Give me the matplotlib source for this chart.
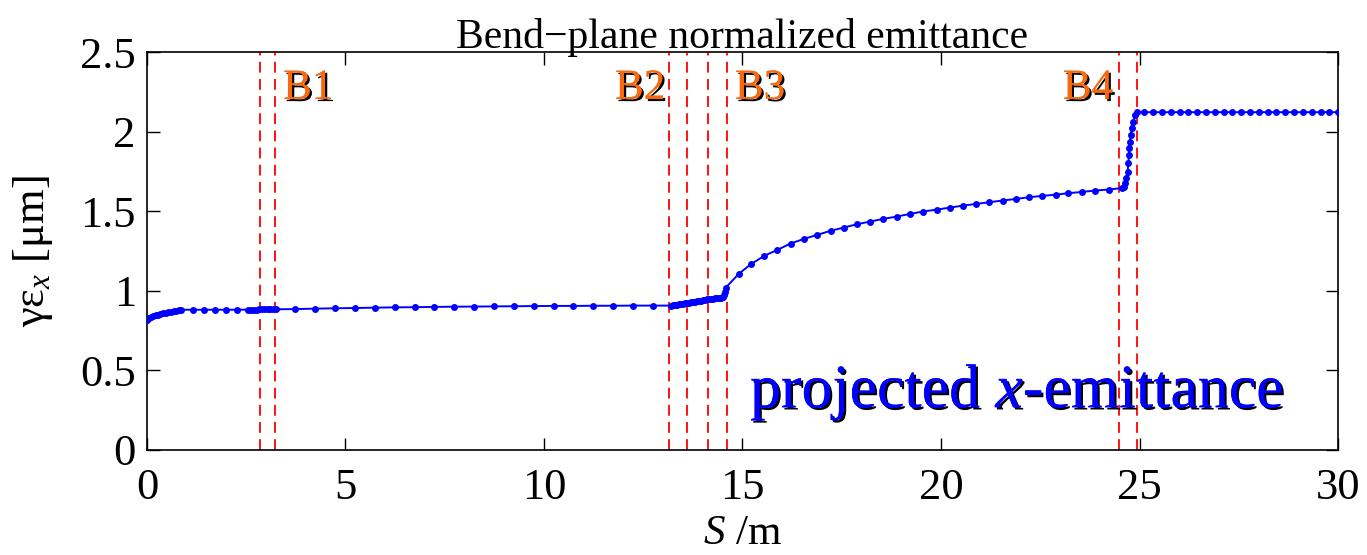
"""Bend-plane normalized emittance along the beamline."""

import matplotlib

matplotlib.use("Agg")

import matplotlib.pyplot as plt
import matplotlib.patheffects as pe

plt.rcParams["font.family"] = ["Liberation Serif", "DejaVu Serif"]
plt.rcParams["mathtext.fontset"] = "custom"
plt.rcParams["mathtext.rm"] = "Liberation Serif"
plt.rcParams["mathtext.it"] = "Liberation Serif:italic"

# emittance samples (S in m, gamma*eps_x in um)
s_pos = [
    0.00, 0.05, 0.10, 0.16, 0.22, 0.28, 0.33, 0.40, 0.47, 0.54, 0.61, 0.68, 0.74, 0.80, 0.87,
    1.17, 1.44, 1.72, 1.99, 2.27,
    2.55, 2.62, 2.69, 2.76, 2.83, 2.90, 2.97, 3.04, 3.11, 3.18, 3.25,
    3.74, 4.24, 4.74, 5.24, 5.74, 6.24, 6.74, 7.24, 7.74, 8.24, 8.74, 9.24, 9.74,
    10.24, 10.74, 11.24, 11.74, 12.24, 12.74,
    13.20, 13.25, 13.30, 13.35, 13.40, 13.45, 13.50, 13.55, 13.60, 13.65, 13.70, 13.75,
    13.80, 13.85, 13.90, 13.95, 14.00, 14.05, 14.10, 14.15, 14.20, 14.25, 14.30, 14.35,
    14.40, 14.45, 14.50, 14.53, 14.56, 14.58,
    14.90, 15.21, 15.55, 15.88, 16.21, 16.55, 16.88, 17.22, 17.55, 17.88, 18.22, 18.55,
    18.88, 19.22, 19.55, 19.89, 20.23, 20.55, 20.89, 21.22, 21.55, 21.89, 22.22, 22.55,
    22.89, 23.21, 23.55, 23.89, 24.22, 24.55,
    24.60, 24.63, 24.67, 24.70, 24.72, 24.73, 24.74, 24.76, 24.78, 24.80, 24.84, 24.89, 24.93,
    25.12, 25.34, 25.56, 25.79, 26.01, 26.23, 26.45, 26.67, 26.90, 27.12, 27.34, 27.56,
    27.78, 28.01, 28.23, 28.45, 28.67, 28.89, 29.12, 29.34, 29.56, 29.78, 30.00,
]
emit_x = [
    0.818, 0.826, 0.833, 0.839, 0.845, 0.850, 0.853, 0.858, 0.862, 0.865, 0.868, 0.871, 0.875, 0.878, 0.881,
    0.881, 0.881, 0.881, 0.881, 0.881,
    0.882, 0.882, 0.882, 0.882, 0.883, 0.883, 0.883, 0.883, 0.884, 0.884, 0.884,
    0.885, 0.888, 0.890, 0.892, 0.894, 0.896, 0.897, 0.899, 0.900, 0.901, 0.902, 0.903, 0.904,
    0.905, 0.905, 0.906, 0.906, 0.907, 0.907,
    0.907, 0.909, 0.911, 0.913, 0.915, 0.917, 0.919, 0.921, 0.923, 0.926, 0.928, 0.930,
    0.932, 0.934, 0.937, 0.939, 0.941, 0.943, 0.946, 0.948, 0.950, 0.951, 0.953, 0.954,
    0.956, 0.957, 0.960, 0.975, 0.995, 1.020,
    1.105, 1.167, 1.220, 1.257, 1.297, 1.326, 1.351, 1.377, 1.397, 1.418, 1.435, 1.452,
    1.466, 1.483, 1.498, 1.510, 1.523, 1.535, 1.546, 1.557, 1.567, 1.577, 1.588, 1.596,
    1.604, 1.613, 1.621, 1.630, 1.636, 1.645,
    1.650, 1.676, 1.707, 1.749, 1.801, 1.853, 1.895, 1.937, 1.979, 2.021, 2.062, 2.104, 2.121,
    2.122, 2.122, 2.122, 2.122, 2.122, 2.122, 2.122, 2.122, 2.122, 2.122, 2.122, 2.122,
    2.122, 2.122, 2.122, 2.122, 2.122, 2.122, 2.122, 2.122, 2.122, 2.122, 2.122,
]

# dipole edges and labels
bend_edges = [2.85, 3.22, 13.16, 13.59, 14.13, 14.60, 24.48, 24.93]
bend_names = ["B1", "B2", "B3", "B4"]
bend_label_s = [3.43, 11.79, 14.81, 23.07]
bend_label_y = 2.27

x_ticks = [0, 5, 10, 15, 20, 25, 30]
y_ticks = [0, 0.5, 1, 1.5, 2, 2.5]
y_tick_labels = ["0", "0.5", "1", "1.5", "2", "2.5"]


def main() -> None:
    fig = plt.figure(figsize=(13.67, 5.55), dpi=100)
    ax = fig.add_axes([0.1075, 0.1892, 0.8713, 0.7171])

    for s in bend_edges:
        ax.axvline(s, color="red", linewidth=1.3, linestyle=(0, (6, 3.5)), zorder=1)

    ax.plot(s_pos, emit_x, color="blue", linewidth=1.4, marker="o",
            markersize=5, markeredgewidth=0, zorder=3)

    shadow = [pe.withSimplePatchShadow(offset=(1.6, -1.6), shadow_rgbFace="black", alpha=1.0),
              pe.Normal()]
    for name, s in zip(bend_names, bend_label_s):
        ax.text(s, bend_label_y, name, color="#F7680F", fontsize=31,
                ha="left", va="center", path_effects=shadow, zorder=4)

    ax.text(15.19, 0.266, r"projected $x$-emittance", color="blue", fontsize=44.5,
            ha="left", va="baseline", path_effects=shadow, zorder=4)

    ax.set_xlim(0, 30)
    ax.set_ylim(0, 2.5)
    ax.set_xticks(x_ticks)
    ax.set_yticks(y_ticks)
    ax.set_yticklabels(y_tick_labels)
    ax.tick_params(direction="in", top=True, right=True, length=9, width=1,
                   labelsize=32)
    ax.tick_params(axis="x", pad=13)
    ax.tick_params(axis="y", pad=8)
    for spine in ax.spines.values():
        spine.set_linewidth(1.2)

    ax.set_title("Bend\u2212plane normalized emittance", fontsize=30, pad=3)
    ax.set_xlabel(r"$S$ /m", fontsize=31, labelpad=5)
    ax.set_ylabel("\u03b3\u03b5$_x$ [\u03bcm]", fontsize=32, labelpad=18)

    fig.savefig("out.png", dpi=100)
    plt.close(fig)


if __name__ == "__main__":
    main()
